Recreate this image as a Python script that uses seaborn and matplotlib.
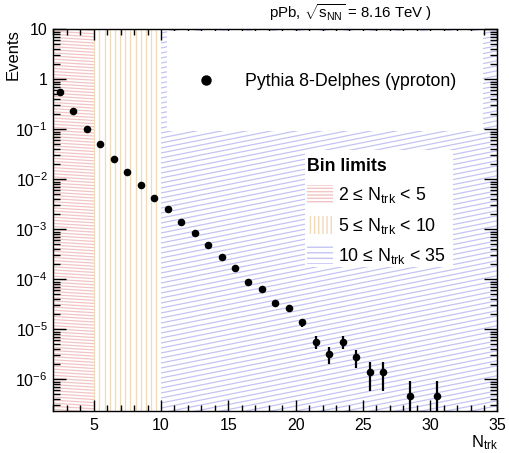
import numpy as np
import pandas as pd
import matplotlib
matplotlib.use("Agg")
import matplotlib.pyplot as plt
import seaborn as sns
from matplotlib.collections import LineCollection
from matplotlib.patches import Rectangle, Patch
from matplotlib.lines import Line2D
from matplotlib.ticker import FixedLocator, LogLocator, NullFormatter, FuncFormatter, MultipleLocator

# ---------------- data ----------------
n_trk = [2.5, 3.5, 4.5, 5.5, 6.5, 7.5, 8.5, 9.5, 10.5, 11.5, 12.5, 13.5, 14.5,
         15.5, 16.5, 17.5, 18.5, 19.5, 20.5, 21.5, 22.5, 23.5, 24.5, 25.5,
         26.5, 28.5, 30.5]
events = [0.557, 0.232, 0.103, 0.050, 0.0255, 0.0140, 0.0078, 0.00423, 0.00251,
          0.00142, 0.00083, 0.000485, 0.000279, 0.000166, 8.8e-5, 6.4e-5,
          3.3e-5, 2.67e-5, 1.38e-5, 5.57e-6, 3.25e-6, 5.57e-6, 2.79e-6,
          1.40e-6, 1.40e-6, 4.7e-7, 4.7e-7]
errors = [5.1e-4, 3.3e-4, 2.2e-4, 1.5e-4, 1.1e-4, 8.1e-5, 6.0e-5, 4.4e-5, 3.4e-5,
          2.6e-5, 2.0e-5, 1.5e-5, 1.14e-5, 8.8e-6, 6.4e-6, 5.5e-6, 3.9e-6,
          3.5e-6, 2.5e-6, 1.6e-6, 1.2e-6, 1.6e-6, 1.1e-6, 8.1e-7, 8.1e-7,
          4.7e-7, 4.7e-7]
bin_edges = [2, 5, 10, 35]
bin_labels = [r"2 ≤ N$_{\mathrm{trk}}$ < 5", r"5 ≤ N$_{\mathrm{trk}}$ < 10",
              r"10 ≤ N$_{\mathrm{trk}}$ < 35"]
bin_colors = ["#f2c4c4", "#f0dab8", "#c4c4f4"]
series_label = "Pythia 8-Delphes (γproton)"
title_text = r"pPb, $\sqrt{\mathrm{s}_{\mathrm{NN}}}$ = 8.16 TeV )"
x_ticks = [5, 10, 15, 20, 25, 30, 35]
y_ticks = [1e-6, 1e-5, 1e-4, 1e-3, 1e-2, 1e-1, 1, 10]

df = pd.DataFrame({"n_trk": n_trk, "events": events, "err": errors})

# ---------------- style ----------------
sns.set_style("ticks")
plt.rcParams["font.family"] = ["Liberation Sans", "DejaVu Sans"]
plt.rcParams["mathtext.fontset"] = "custom"
plt.rcParams["mathtext.rm"] = "Liberation Sans"
plt.rcParams["mathtext.it"] = "Liberation Sans:italic"
plt.rcParams["mathtext.bf"] = "Liberation Sans:bold"
plt.rcParams["hatch.linewidth"] = 1.0
for k in ["text.color", "axes.labelcolor", "xtick.color", "ytick.color",
          "axes.edgecolor"]:
    plt.rcParams[k] = "black"

W_PX, H_PX = 509, 453
fig = plt.figure(figsize=(W_PX / 100, H_PX / 100), dpi=100)
ax_l, ax_r, ax_t, ax_b = 53.3, 497.5, 29.3, 410.7
aw, ah = ax_r - ax_l, ax_b - ax_t
ax = fig.add_axes([ax_l / W_PX, 1 - ax_b / H_PX, aw / W_PX, ah / H_PX])
ax.set_facecolor("white")

XMIN, XMAX = 2, 35
YMIN, YMAX = 2.35e-7, 10
ax.set_yscale("log")


def frac(x):
    return (x - XMIN) / (XMAX - XMIN)


def hatch_region(x0, x1, color, slope=0.0, spacing=5.0, vertical=False):
    clip = Rectangle((frac(x0), 0), frac(x1) - frac(x0), 1, transform=ax.transAxes,
                     facecolor="none", edgecolor="none")
    segs = []
    if vertical:
        px0, px1 = frac(x0) * aw, frac(x1) * aw
        xs = np.arange(px0 + 0.5, px1 + 0.5, spacing)
        for xp in xs:
            segs.append([(xp / aw, 0), (xp / aw, 1)])
    else:
        c_lo = -abs(slope) * aw - spacing
        c_hi = ah + abs(slope) * aw + spacing
        for c in np.arange(c_lo, c_hi, spacing):
            segs.append([(0, c / ah), (1, (c + slope * aw) / ah)])
    lc = LineCollection(segs, colors=color, linewidths=0.9, transform=ax.transAxes,
                        zorder=0.5)
    ax.add_collection(lc)
    lc.set_clip_path(clip)


hatch_region(bin_edges[0], bin_edges[1], bin_colors[0], slope=-0.06, spacing=3.1)
hatch_region(bin_edges[1], bin_edges[2], bin_colors[1], vertical=True, spacing=5.18)
hatch_region(bin_edges[2], bin_edges[3], bin_colors[2], slope=0.2, spacing=5.0)

# white legend boxes
ax.add_patch(Rectangle((0.256, 0.733), 0.967 - 0.256, 0.9955 - 0.733,
                       transform=ax.transAxes, facecolor="white", edgecolor="none",
                       zorder=1))
ax.add_patch(Rectangle((0.566, 0.377), 0.900 - 0.566, 0.684 - 0.377,
                       transform=ax.transAxes, facecolor="white", edgecolor="none",
                       zorder=1))

# data
ax.errorbar(df["n_trk"], df["events"], yerr=df["err"], fmt="none", ecolor="black",
            elinewidth=1.6, capsize=0, zorder=3)
sns.scatterplot(data=df, x="n_trk", y="events", ax=ax, color="black", s=30,
                edgecolor="black", linewidth=0, zorder=4, legend=False)

ax.set_xlim(XMIN, XMAX)
ax.set_ylim(YMIN, YMAX)

# ticks
ax.xaxis.set_major_locator(FixedLocator(x_ticks))
ax.xaxis.set_minor_locator(MultipleLocator(1))
ax.yaxis.set_major_locator(FixedLocator(y_ticks))
ax.yaxis.set_minor_locator(LogLocator(base=10, subs=np.arange(2, 10), numticks=30))
ax.yaxis.set_minor_formatter(NullFormatter())


def yfmt(v, pos):
    e = int(round(np.log10(v)))
    if e == 0:
        return "1"
    if e == 1:
        return "10"
    return r"$\mathregular{10^{%d}}$" % e


ax.yaxis.set_major_formatter(FuncFormatter(yfmt))
ax.tick_params(axis="both", which="both", direction="in", top=True, right=True,
               color="black", labelcolor="black", labelsize=11.5)
ax.tick_params(axis="x", which="major", length=7.7, width=1.0, pad=5)
ax.tick_params(axis="x", which="minor", length=4.1, width=1.0)
ax.tick_params(axis="y", which="major", length=9.4, width=1.0, pad=4)
ax.tick_params(axis="y", which="minor", length=5.0, width=1.0)
for sp in ax.spines.values():
    sp.set_visible(True)
    sp.set_color("black")
    sp.set_linewidth(1.0)
    sp.set_zorder(6)
ax.set_xlabel("")
ax.set_ylabel("")

# legends
h1 = [Line2D([], [], marker="o", ls="none", color="black", markersize=6.5)]
leg1 = ax.legend(h1, [series_label], loc="center left",
                 bbox_to_anchor=(0.323, 0.863), frameon=False, fontsize=12.8,
                 borderpad=0, borderaxespad=0, handlelength=1.0, handletextpad=1.71)
leg1.set_zorder(5)
ax.add_artist(leg1)

h2 = [Patch(facecolor="none", edgecolor=c, linewidth=0, hatch=h)
      for c, h in zip(bin_colors, ["-----", "||||", "---"])]
leg2 = ax.legend(h2, bin_labels, loc="upper left", bbox_to_anchor=(0.572, 0.663),
                 frameon=False, fontsize=12.8, title="Bin limits",
                 title_fontproperties={"weight": "bold", "size": 12.8},
                 alignment="left", borderpad=0, borderaxespad=0,
                 handlelength=1.45, handleheight=1.2, handletextpad=0.3,
                 labelspacing=0.58)
leg2.set_zorder(5)

# texts
fig.text(432 / W_PX, 1 - 13 / H_PX, title_text, ha="right", va="center", fontsize=10.8)
fig.text(497.7 / W_PX, 1 - 447 / H_PX, r"N$_{\mathrm{trk}}$", ha="right",
         va="baseline", fontsize=12)
fig.text(13.5 / W_PX, 1 - 29 / H_PX, "Events", rotation=90, ha="center", va="top",
         fontsize=12)

fig.savefig("out.png", dpi=100)
